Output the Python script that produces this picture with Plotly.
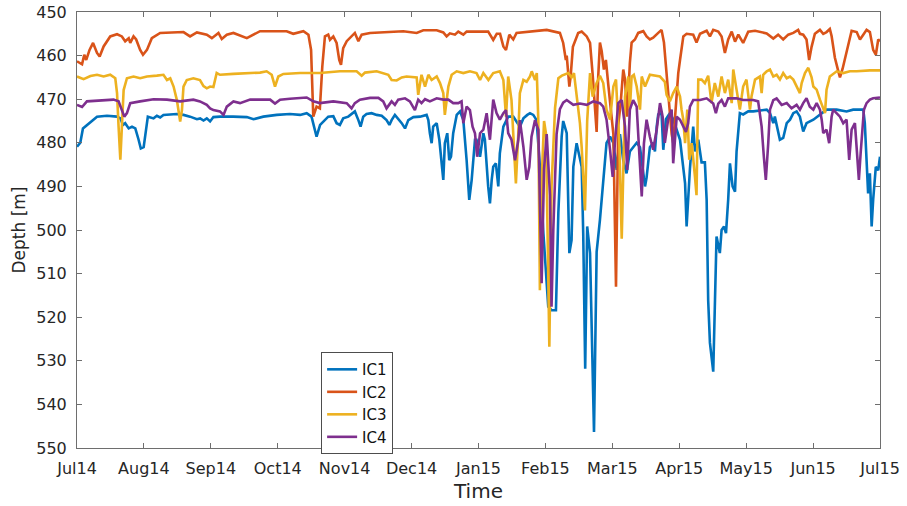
import plotly.graph_objects as go

# ---------------- data (days since 1 Jul 2014, depth in m) ----------------
month_labels = ["Jul14", "Aug14", "Sep14", "Oct14", "Nov14", "Dec14", "Jan15",
                "Feb15", "Mar15", "Apr15", "May15", "Jun15", "Jul15"]
depth_ticks = [450, 460, 470, 480, 490, 500, 510, 520, 530, 540, 550]

ic1_day = [0, 1.5, 2.7, 4.5, 6.8, 9.1, 13.6, 18.2, 19.7, 20.9, 21.9, 23.5, 25, 26.5, 28, 29, 30.3, 31.5, 32.2, 34.8,
           36.3, 37.8, 39.3, 45.4, 48.4, 51.4, 54.5, 56, 57.5, 59, 60.5, 62, 65, 71, 77.2, 80.2, 84.7, 90.8, 96.8, 101.4,
           104.4, 106.6, 108.2, 108.9, 110.5,
           114.2, 116.5, 118, 119.5, 121, 123.3, 124.8, 126.3, 127.9, 128.9, 130.1, 131.6, 133.9, 136.2, 138.5, 140.7,
           142, 143, 144.5, 146, 147.6, 149.1, 150.6, 152.9, 155.9, 158.9, 159.7, 160.4, 161.2, 161.9, 163.5, 164.7,
           165.7, 166.5, 167.2, 168.3, 169.2, 170, 171, 172.6, 174.1, 175.6, 177.1, 178.3, 179.4, 180.9, 181.6, 183.2,
           184.7, 185.4, 186.9, 187.7, 188.5, 189.2, 190.4, 191.5, 192.2, 193.8, 196, 198.3, 201.3, 202.9, 204.7,
           205.9, 207.4, 208.9,
           210.4, 211.9, 214.2, 215.7, 217.7, 218.8, 220.3, 221, 222.6, 223.8, 224.8, 225.6, 227.1, 229.4, 230.1, 231,
           231.9, 233.2, 235, 236.2, 237.7, 239.5, 240.7, 242.3, 243.8, 245.3, 246.8,
           248.3, 249.8, 251.3, 254.4, 255.9, 257.4, 258.2, 258.9, 260.4, 261.9, 262.7, 263.5, 264.2, 265.7, 266.5,
           267.7, 269.5, 271, 272.6, 274.1, 276.4, 277.1, 278.6, 279.4, 280.1, 280.9, 282.4, 283.9, 285.4, 286.2,
           286.9, 287.7, 289.2, 290, 290.7, 292.2, 293, 294.1, 295, 296, 296.8, 298, 299.1, 299.8, 301.3, 302.8, 305.1,
           307.4, 313.5, 315, 316.5, 317.2, 318.7, 319.5, 321, 322.6, 324.1, 325.6, 327.1, 328.6, 330.1, 331.6, 334.7,
           337.7, 340.7, 345.3, 349.8, 352.8, 357.4, 358.1, 358.9, 359.6, 360.4, 361.2, 361.9, 363.1, 364.2, 365]
ic1_depth = [480.9, 480, 476.7, 476, 475.1, 474, 473.8, 474, 474.4, 475.9, 475.5, 476.7, 476.3, 476.7, 479.3, 481.3,
             481, 476.3, 474, 474.4, 473.8, 474.2, 473.6, 473.4, 473.6, 474, 474.6, 474.4, 474.9, 474.4, 475.1, 474.1,
             474, 474, 474.1, 474.6, 474, 473.6, 473.4, 473.6, 473.2, 474, 477.4, 478.6, 475.9,
             474, 473.9, 475.5, 475.9, 474.4, 474, 473.3, 472.8, 474.8, 476.3, 474, 473.4, 473.2, 473.6, 473.8, 474.8,
             475.9, 474.8, 473.6, 474.4, 475.5, 476.7, 474.8, 474.1, 474, 473.6, 474.8, 477.8, 480.1, 476.3, 475.5,
             479.3, 485.5, 488.5, 480.1, 477.8, 484, 483.2, 477.8, 473.6, 472.8, 474.8, 484, 493.1, 488.5, 479.3,
             479.3, 483.2, 477.8, 479.3, 490, 493.9, 488.5, 485.5, 484.7, 490, 482.4, 476.3, 474, 474, 476.3, 474.4,
             473.6, 473.2, 473.6, 474.8,
             485.4, 500, 517.6, 518.4, 518.4, 496, 478.6, 475, 477.8, 505.3, 502.3, 485.5, 480.1, 485.5, 500.7, 531.8,
             499.2, 505.3, 546.3, 505, 497.7, 486.2, 480, 478.6, 480, 486.2, 478,
             484, 487, 482, 480, 481, 487, 490, 488, 481, 480, 482, 476.3, 473.5, 473.2, 481.6, 474.6, 473.2, 474.6,
             477, 479.3, 489.3, 499.2, 486, 480.6, 476.3, 482, 479.3, 484.5, 484.5, 493, 516.1, 525.9, 532.5, 516,
             501.5, 505.3, 500, 499.2, 500.7, 493, 484.7, 490, 491.2, 482, 473.2, 473.5, 472.8, 472.8, 472.4, 473.2,
             475.5, 474, 477.8, 479.3, 478.9, 475.5, 474.7, 473.2, 472.8, 474, 477.4, 475.5, 474.7, 473.5, 472.4,
             472.4, 472.8, 472.4, 472.4, 475.5, 485.5, 491.6, 487, 499.2, 493, 485.5, 486.3, 483.2]

ic2_day = [0, 2.3, 3.3, 4.2, 5.7, 7.3, 9.1, 10.3, 12.1, 15.1, 18.2, 20.4, 21.9, 23.5, 24.2, 25.7, 26.9, 28.7, 30, 31.8,
           34, 37.8, 48.4, 51.4, 54.5, 59, 61.3, 64.3, 65.8, 68.1, 71.1, 77.2, 83.2, 95.3, 98.3, 102.9, 105.2, 106.4,
           107.4,
           108.9, 110.4, 111.5, 112.7, 114.2, 115, 116.5, 118, 119.2, 120, 121, 122.6, 124.8, 126.3, 127.9, 129.4,
           133.2, 142.3, 148.3, 154.4, 157.4, 163.5,
           166.5, 168, 169.5, 171.8, 173.3, 175.6, 177.1, 186.9, 189.2, 190.8, 192.3, 193.8, 195, 196.5, 198.3, 199.8,
           207.4, 213.5, 219.5, 221, 222.2, 222.6, 223.8, 224.4, 225.4, 227.8, 229.4, 231.7, 233.2, 234.4, 236.2,
           236.9, 237.7, 238.5, 239.5, 240.4, 241.5, 242.6, 243.8, 245, 246, 247.1, 248.3, 249.1, 250.1, 251.3, 252.1,
           253.6, 255.1, 257.4, 258.9, 260.4, 261.9, 264.2, 265.7, 266.8, 268, 269.2, 270.3, 271, 272.2, 273.3, 274.1,
           274.8, 275.6, 277.1, 280.1, 281.6, 283.2,
           286.2, 287.7, 289.2, 291.5, 293, 294.5, 296, 297.6, 299.1, 300.6, 302.8, 305.1, 308.2, 313.5, 316.5, 318.7,
           321, 323.3, 325.6, 327.8, 328.6, 330.1, 331.6, 332.8, 333.9, 335.4, 337.7, 339.2, 340.7, 342.2, 343, 344.5,
           346, 346.8, 348, 349, 350.6, 352.1, 354.4, 355.9, 357.4, 358.9, 360.4, 361.9, 363.1, 364.2, 365]
ic2_depth = [461.3, 462, 459.8, 461, 458.7, 457.1, 459.4, 460.2, 457.9, 455.6, 455.1, 455.6, 456.7, 456, 457.1, 455.6,
             456.3, 458.7, 459.8, 458.7, 456, 454.8, 454.6, 455.6, 454.7, 455.2, 456, 454.8, 456.2, 455.2, 454.8, 456,
             454.4, 454.4, 455, 454.4, 455.2, 458.7, 474,
             471.7, 472.1, 462.5, 455.6, 455.2, 456.4, 455.6, 457.1, 461, 462.1, 458.3, 456.7, 455.6, 454.8, 456.7,
             455.2, 454.8, 454.6, 454.4, 454.8, 454.2, 454.2,
             454.7, 455.6, 454.9, 455.2, 454.5, 455.2, 454.5, 454.5, 456.4, 455, 455, 457.9, 458.7, 455.2, 456.3, 454.8,
             454.5, 454.1, 454.8, 457.1, 461, 460, 467.1, 464.7, 458, 454.8, 454.5, 455.6, 457.1, 464.4, 477.5, 465,
             457, 459, 463.2, 461, 466.7, 471.7, 478, 513, 476, 471, 463.2, 465.5, 474, 461.7, 457, 456.3, 454.8,
             454.4, 455.6, 456.3, 455.9, 454.8, 454.1, 457, 464.7, 472.4, 478, 480, 471.7, 464, 461, 457.9, 455.6, 455,
             455.2, 457, 455,
             454.3, 455.6, 454.1, 454.5, 455.6, 459.4, 456.3, 454.5, 456.8, 455.2, 457.1, 454.5, 454.3, 454.9, 456.1,
             455.2, 456.3, 455.2, 454.8, 454.1, 455, 455.2, 456.3, 461, 458, 455, 454.1, 455, 454.6, 453.9, 455.5,
             460.5, 463.5, 465, 463, 461, 458, 454.3, 454.6, 456.3, 455.2, 454.1, 454.6, 458.7, 459.8, 456.3, 456.7]

ic3_day = [0, 3, 6.1, 9.1, 12.1, 15.1, 17.4, 18.2, 18.9, 19.7, 20.4, 21.2, 22.7, 25.7, 28.7, 31.8, 36.3, 39.3, 40.9,
           42.4, 43.9, 45.4, 46.9, 47.7, 48.4, 49.9, 52.9, 55.9, 57.5, 59, 60.5, 62, 63.5, 65, 71.1, 77.2, 83.2, 86.2,
           88.5, 90, 91.5, 93.8, 101.4, 110.4,
           119.5, 127.1, 129.4, 130.9, 136.2, 141.5, 143, 145.3, 147.6, 149.8, 154.4, 155.1, 156.6, 158.2, 159.7,
           161.2, 163.5, 165, 166.5, 167.2, 168.8, 170.3, 172.6, 175.6, 178.6, 181.6, 183.2, 184.7, 187, 189.2, 192.2,
           193.8, 195, 196, 197.5, 198.6, 199.5, 200.6, 201.3, 202.9, 204.4, 205.9, 206.7, 208.2, 209, 209.7, 210.4,
           211.5, 212.3, 213.2, 214.7, 215.7, 217.3, 218.8, 220.4, 223.3, 224.8, 225.9, 227.1, 228.6, 229.4, 230.9,
           231.9, 233.2, 234.4, 236.2, 237.7,
           239.2, 240.7, 242.3, 243.8, 245, 245.6, 246.5, 247.6, 248.3, 249.1, 250.6, 251.3, 252.1, 253.1, 254.4,
           255.9, 256.7, 258.2, 260.4, 265, 267.2, 268, 269.5, 271, 272.6, 274.1, 274.8, 275.6, 276.4, 277.4, 278.3,
           279.4, 280.9, 281.6, 282.4, 283.9, 285.4, 286.9, 288.4, 289.9, 291.5, 293, 294.5, 296, 297.6, 298.3, 299.8,
           301.3, 302.8, 304.3, 305.9, 306.6, 308.2, 310.4, 311.2, 311.9, 313.5, 315, 316.5, 318, 319.5, 321, 322.6,
           324.1, 325.6, 327.1, 328.6, 329.4, 330.9, 332.4, 333.9, 334.7, 336.2, 337.7, 339.2, 340, 340.7, 342.2,
           345.3, 348.3, 351.3, 354.4, 360.4, 365]
ic3_depth = [464.8, 465.4, 464.7, 464.4, 464.8, 464.4, 465.2, 468.6, 476.3, 483.9, 476.3, 467.9, 465.2, 464.8, 465.2,
             464.8, 464.6, 464.4, 465.6, 465.2, 467.1, 470.2, 475.1, 472.5, 467.1, 465.6, 465.2, 465.6, 467, 467.5,
             467.1, 467.2, 464, 464.4, 464.2, 464, 463.9, 463.6, 464.4, 467.1, 464.8, 464.2, 464, 464,
             463.6, 463.6, 464.6, 463.9, 463.6, 464.4, 465.6, 465.7, 465, 464.8, 465, 469, 464.4, 467.1, 464.4, 465.6,
             464.8, 466.3, 468.6, 473.6, 467.1, 464.4, 463.6, 464, 463.6, 464, 465.6, 464, 465.6, 464, 463.6, 465.6,
             474, 464.8, 470.2, 480.9, 489.3, 477.8, 468.6, 465.6, 466, 464.8, 463.6, 465.6, 464, 475, 513.8, 485,
             475, 478, 526.8, 490, 472, 465.2, 464.6, 464, 465, 464, 469.4, 475.5, 481, 495.5, 475, 464, 469.4, 466.3,
             464.6,
             466.3, 472.4, 474.7, 467.1, 465.5, 471.7, 480.1, 502, 487.8, 469.4, 464.8, 472.4, 464.8, 464.4, 467.1,
             472.4, 464.8, 467.1, 464.4, 464.8, 466, 469, 470.5, 468.6, 467.1, 469.4, 472.4, 474.7, 480.1, 472.4,
             483.9, 480.1, 487.8, 492, 465.5, 465.5, 466.3, 464.6, 470.9, 466.3, 469.4, 464.8, 468.6, 465.5, 470.9,
             463.2, 467.8, 472.4, 467.1, 465.5, 472.4, 469.4, 465.5, 464.8, 468.6, 464.4, 463.6, 463.2, 464.8, 464.4,
             465.5, 464, 465.2, 464.8, 465.5, 467.1, 468.6, 466.3, 464, 462.8, 465, 467.1, 467.8, 470.1, 472.4, 473.2,
             467.8, 464.8, 463.6, 464, 463.6, 463.6, 463.4, 463.4]

ic4_day = [0, 2.3, 4.5, 10.6, 16.6, 18.9, 20.4, 21.5, 22.7, 24.2, 28.7, 34.8, 40.9, 46.9, 52.9, 55.9, 59, 60.5, 62, 65,
           66.6, 68.1, 71.1, 74.1, 78.7, 81.7, 87.8, 90, 92.3, 96.8, 104.4, 107.4, 110.4,
           116.5, 122.6, 124.8, 126.3, 128.6, 133.2, 137, 139.2, 140.7, 143, 144.5, 146, 149.1, 151.3, 153.6, 155.1,
           156.6, 158.2, 160.4, 163.5, 166.5, 168.8, 171, 173.3, 174.8, 175.6, 177.1, 178.6, 179.8, 180.9, 181.9,
           183.2, 184.7, 186.2, 187.7, 189.2, 190.7, 192.2, 193.8, 195, 196, 197.5, 199.1, 200.6, 201.3, 202.9, 204.4,
           205.6, 206.6, 208.2, 209.7, 211.2, 212.3, 213.5, 215, 215.7, 216.5, 218, 219.5, 221, 222.6, 225.6, 228.6,
           231.7, 234.7, 237.7, 239.2, 240.7, 242.3, 243.5, 244.5, 246, 247.6, 249.1, 250.1, 251.3, 252.8, 254.4,
           255.5, 256.7, 257.7, 258.9, 260.4, 261.9, 263.5, 265, 266.2, 267.2, 268.7, 270.3, 271, 272.6, 274.1, 275.6,
           276.8, 277.8, 278.6, 280.1, 283.2, 286.2, 289.2, 290.4, 291.5, 293, 294.5, 296, 299.8, 302.8, 307.4, 309.6,
           311.2, 312.2, 313.1, 314.2, 315, 316.5, 318, 320.3, 322.6, 324.8, 327.1, 328.6, 330.1, 331.6, 333.1, 334.7,
           336.2, 337.7, 338.5, 339.2, 340.7, 341.9, 343, 343.7, 345.3, 346.8, 348.3, 349.8, 351, 352.1, 353.6, 354.4,
           355.4, 356.2, 357.1, 357.7, 358.9, 360.4, 361.9, 365]
ic4_depth = [471.3, 471.8, 470.5, 470.3, 470.1, 470.5, 472.5, 474, 473.2, 470.9, 470.5, 470, 470.1, 470.5, 470.1,
             470.5, 471.3, 472.1, 472.5, 472.8, 473.6, 471.7, 470.5, 470.9, 470.1, 470.1, 470.1, 471, 470.1, 469.9,
             469.6, 470.5, 470.9,
             470.5, 470.9, 472.1, 470.9, 470.1, 469.7, 469.7, 470.5, 472.1, 470.5, 471.3, 470.1, 469.8, 470.5, 472.5,
             470.1, 470.9, 470, 470.5, 469.8, 470.1, 470.1, 470.9, 470.9, 470.5, 475.5, 471.7, 472.5, 476.3, 477.8,
             483.2, 477.8, 477, 473.2, 479.3, 470.1, 473.2, 474.7, 473.2, 472.5, 477.8, 479.3, 484, 479.3, 474.8,
             480.9, 488.5, 485.5, 478.6, 474.8, 477, 512.2, 486, 478, 492, 517.6, 500, 478, 472.3, 470.8, 470.2, 471.3,
             471, 471.3, 470.5, 470.9, 471.7, 474.7, 481.6, 487.8, 480.1, 470.9, 470.2, 476.3, 486.2, 472.4, 470.2,
             471.7, 481.6, 492.3, 480.1, 474.7, 478.6, 481.6, 477, 470.9, 474, 480, 474.7, 472.4, 484.7, 474, 474.7,
             476.3, 477.5, 475.5, 471.7, 470.2, 470.2, 469.8, 471, 473.2, 471, 470.2, 471.7, 469.8, 469.8, 470.2,
             470.2, 470.5, 476.3, 483.2, 488.5, 480.1, 472.4, 470.2, 469.8, 471.3, 470.9, 472.1, 471.3, 472.4, 470.9,
             469.8, 471.7, 472.4, 470.9, 472.4, 474.7, 477.8, 477, 480.1, 474, 472.4, 473.2, 474, 475.5, 474.7, 483.9,
             477, 475.5, 481.6, 488.5, 482.4, 476.3, 472.4, 470.9, 470.1, 469.8, 469.6]

series = [
    ("IC1", ic1_day, ic1_depth, "#0072BD"),
    ("IC2", ic2_day, ic2_depth, "#D95319"),
    ("IC3", ic3_day, ic3_depth, "#EDB120"),
    ("IC4", ic4_day, ic4_depth, "#7E2F8E"),
]

# ---------------- figure ----------------
FONT = "DejaVu Sans"
fig = go.Figure()
for name, d, z, col in series:
    fig.add_trace(go.Scatter(x=d, y=z, mode="lines", name=name,
                             line=dict(color=col, width=2.6)))

n_days = 365
tickvals = [i * n_days / 12 for i in range(len(month_labels))]
axis_col = "#6e6e6e"

fig.update_layout(
    width=907, height=506,
    margin=dict(l=77, r=27, t=12, b=58, pad=0),
    paper_bgcolor="white", plot_bgcolor="white",
    font=dict(family=FONT, size=16, color="#262626"),
    showlegend=True,
    legend=dict(x=0.304, y=0.22, xanchor="left", yanchor="top",
                bgcolor="white", bordercolor="#4d4d4d", borderwidth=1,
                font=dict(family=FONT, size=15, color="#111111"),
                tracegroupgap=0),
    xaxis=dict(range=[0, n_days], tickvals=tickvals, ticktext=month_labels,
               showgrid=False, zeroline=False, showline=True, linecolor=axis_col, linewidth=1,
               mirror="ticks", ticks="inside", ticklen=5, tickcolor=axis_col,
               tickfont=dict(family=FONT, size=16, color="#262626"),
               ticklabelstandoff=6,
               title=dict(text="Time", font=dict(family=FONT, size=20, color="#262626"), standoff=6),
               automargin=False),
    yaxis=dict(range=[550, 450], tickvals=depth_ticks,
               showgrid=False, zeroline=False, showline=True, linecolor=axis_col, linewidth=1,
               mirror="ticks", ticks="inside", ticklen=5, tickcolor=axis_col,
               tickfont=dict(family=FONT, size=16, color="#262626"),
               ticklabelstandoff=6,
               title=dict(text="Depth [m]", font=dict(family=FONT, size=17, color="#262626"), standoff=6),
               automargin=False),
)

fig.write_html("out.html")
